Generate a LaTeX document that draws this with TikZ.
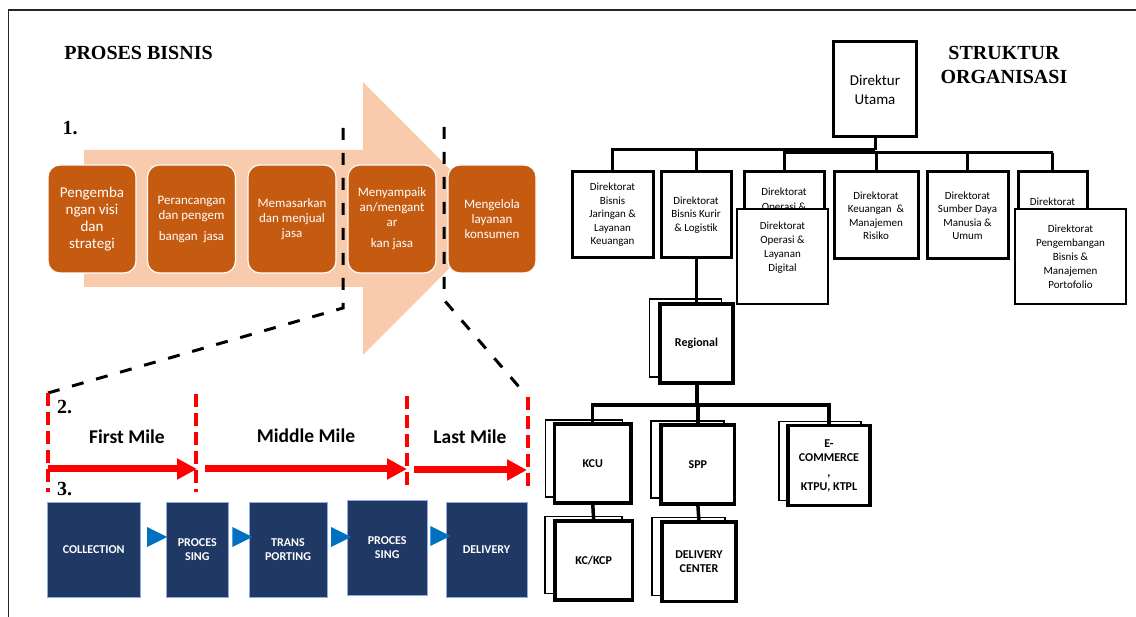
\documentclass[tikz,border=0pt]{standalone}
\usepackage{fontspec}
\setmainfont{Liberation Serif}
\newfontfamily\carlito{Carlito}
\usetikzlibrary{arrows.meta,shapes.geometric}

\definecolor{peach}{HTML}{F8CBAD}
\definecolor{rust}{HTML}{C55A11}
\definecolor{navy}{HTML}{203864}
\definecolor{navyline}{HTML}{8FAADC}
\definecolor{triblue}{HTML}{0070C0}
\definecolor{redline}{HTML}{FF0000}

\begin{document}
\begin{tikzpicture}[x=1pt,y=-1pt,
  heading/.style={inner sep=0pt, align=center, font=\bfseries\fontsize{20}{24}\selectfont},
  obox/.style={rounded corners=12pt, fill=rust, draw=white, line width=1.2pt,
    minimum width=88pt, minimum height=108pt, inner sep=0pt, text=white,
    align=center, font=\carlito\fontsize{13}{15}\selectfont},
  nbox/.style={fill=navy, draw=navyline, line width=0.8pt, inner sep=0pt,
    text=white, align=center, font=\carlito\bfseries\fontsize{12}{14}\selectfont},
  tri/.style={isosceles triangle, isosceles triangle stretches, fill=triblue,
    minimum width=20pt, minimum height=20pt, inner sep=0pt},
  bdash/.style={line width=3pt, dash pattern=on 12pt off 13pt},
  rdash/.style={redline, line width=4pt, dash pattern=on 13pt off 6pt},
  rarrow/.style={redline, line width=7pt, -{Triangle[length=20pt,width=20pt]}},
  milelabel/.style={inner sep=0pt, font=\carlito\bfseries\fontsize{19.5}{22}\selectfont},
  dbox/.style={draw=black, line width=3pt, fill=white, inner sep=0pt, align=center,
    font=\carlito\fontsize{11}{13.5}\selectfont},
  dfront/.style={dbox, line width=2.2pt},
  dtext/.style={inner sep=0pt, align=center, font=\carlito\fontsize{11}{14}\selectfont},
  sbox/.style={draw=black, line width=1.2pt, fill=white, inner sep=0pt},
  fbox/.style={draw=black, line width=3.6pt, fill=white, inner sep=0pt, align=center,
    font=\carlito\bfseries\fontsize{12}{14.5}\selectfont},
  conn/.style={line width=3pt},
  conn2/.style={line width=3.5pt}
]
\useasboundingbox (0,0) rectangle (1136,617);

% frame
\draw[line width=1.6pt, black!85] (8.6,617) -- (8.6,10) -- (1136,10);

% ---------------- business process ----------------
\node[heading] (hproc) at (138.5,53) {PROSES BISNIS};
\node[heading] (n1) at (70,128) {1.};

% big background arrow
\fill[peach] (84,150) -- (363,150) -- (363,82) -- (499,218.5) -- (363,355)
  -- (363,287) -- (84,287) -- cycle;

\node[obox, font=\carlito\fontsize{15}{17}\selectfont] (p1) at (92,219)
  {Pengemba\\ngan visi\\dan\\strategi};
\node[obox] (p2) at (191.5,219) {Perancangan\\dan pengem\\[6pt]bangan\ \ jasa};
\node[obox] (p3) at (292,219) {Memasarkan\\dan menjual\\jasa};
\node[obox] (p4) at (392,219) {Menyampaik\\an/mengant\\ar\\[6pt]kan jasa};
\node[obox] (p5) at (492,219) {Mengelola\\layanan\\konsumen};

% zoom lines towards the mile breakdown
\coordinate (k1) at (343,128);
\coordinate (k2) at (343,308);
\coordinate (k3) at (444,127);
\coordinate (k4) at (444,300);
\coordinate (k5) at (520,388);

% red separators
\coordinate (s1t) at (48,393);  \coordinate (s1b) at (48,492);
\coordinate (s2t) at (196,394); \coordinate (s2b) at (196,492);
\coordinate (s3t) at (407,396); \coordinate (s3b) at (407,490);
\coordinate (s4t) at (528,397); \coordinate (s4b) at (528,490);

\draw[bdash] (k1) -- (k2) -- (s1t);
\draw[bdash] (k3) -- (k4) -- (k5);

\draw[rdash] (s1t) -- (s1b);
\draw[rdash] (s2t) -- (s2b);
\draw[rdash] (s3t) -- (s3b);
\draw[rdash] (s4t) -- (s4b);

\node[heading] (n2) at (64.5,407) {2.};
\node[heading] (n3) at (64.5,489) {3.};

\node[milelabel] (m1) at (127,437) {First Mile};
\node[milelabel] (m2) at (306,436) {Middle Mile};
\node[milelabel] (m3) at (470,437) {Last Mile};

\coordinate (a0) at (48,469);
\coordinate (a1) at (197,469);
\coordinate (a2) at (205,469);
\coordinate (a3) at (407,469);
\coordinate (a4) at (414,470);
\coordinate (a5) at (527,470);
\draw[rarrow] (a0) -- (a1);
\draw[rarrow] (a2) -- (a3);
\draw[rarrow] (a4) -- (a5);

% process chain
\node[nbox, minimum width=92.5pt, minimum height=95pt] (c1) at (93.75,549.5) {COLLECTION};
\node[nbox, minimum width=61.3pt, minimum height=95pt] (c2) at (197.3,549.5) {PROCES\\SING};
\node[nbox, minimum width=78pt, minimum height=95pt] (c3) at (288,549.5) {TRANS\\PORTING};
\node[nbox, minimum width=79.5pt, minimum height=94.3pt] (c4) at (387.2,547.9) {PROCES\\SING};
\node[nbox, minimum width=81pt, minimum height=95pt] (c5) at (486.5,549.5) {DELIVERY};

\path (c1.east |- 0,537) -- (c2.west |- 0,537) node[tri, midway] (t1) {};
\path (c2.east |- 0,537) -- (c3.west |- 0,537) node[tri, midway] (t2) {};
\path (c3.east |- 0,537) -- (c4.west |- 0,537) node[tri, midway] (t3) {};
\path (c4.east |- 0,536) -- (c5.west |- 0,536) node[tri, midway] (t4) {};

% ---------------- organisation chart ----------------
\node[heading] (horg) at (1004,65) {STRUKTUR\\ORGANISASI};

\node[dbox, minimum width=83pt, minimum height=95pt,
  font=\carlito\fontsize{15}{19}\selectfont] (du) at (875,89.5) {Direktur\\Utama};

\node[dbox, minimum width=81pt, minimum height=86pt] (b1) at (612.5,215)
  {Direktorat\\Bisnis\\Jaringan \&\\Layanan\\Keuangan};
\node[dbox, minimum width=70pt, minimum height=86pt] (b2) at (696,215)
  {Direktorat\\Bisnis Kurir\\\& Logistik};
\node[dbox, minimum width=80pt, minimum height=87pt] (b3) at (784,215.5) {};
\node[dtext, font=\carlito\fontsize{11}{15}\selectfont] (b3t) at (784,200.5) {Direktorat\\Operasi \&};
\node[dbox, minimum width=84pt, minimum height=87pt] (b4) at (876,215.5)
  {Direktorat\\Keuangan\ \ \&\\Manajemen\\Risiko};
\node[dbox, minimum width=81pt, minimum height=87pt] (b5) at (967.5,215.5)
  {Direktorat\\Sumber Daya\\Manusia \&\\Umum};
\node[dbox, minimum width=69pt, minimum height=87pt] (b6) at (1052.5,215.5) {};
\node[dtext] (b6t) at (1052.5,202) {Direktorat};

\node[dfront, minimum width=91pt, minimum height=95pt] (b3f) at (782.5,256.5) {};
\node[dtext] (b3ft) at (782.5,248) {Direktorat\\Operasi \&\\Layanan\\Digital};
\node[dfront, minimum width=111pt, minimum height=95pt, font=\carlito\fontsize{11}{14}\selectfont]
  (b6f) at (1070.5,256.5) {Direktorat\\Pengembangan\\Bisnis \&\\Manajemen\\Portofolio};

% top level bus
\coordinate (busA) at (875,150);
\coordinate (busB) at (1052.5,153);
\draw[conn] (du.south) -- (busA);
\draw[conn] (b1.north) |- (busA);
\draw[conn] (b2.north) |- (busA);
\draw[conn] (b3.north) |- (busB);
\draw[conn] (b6.north) -- (busB);
\draw[conn] (b4.north) -- (b4.north |- busB);
\draw[conn] (b5.north) -- (b5.north |- busB);

% regional level: back copies first
\node[sbox, minimum width=72pt, minimum height=78pt] (regB) at (685.5,338) {};
\node[sbox, minimum width=77pt, minimum height=77pt] (kcuB) at (584,458.5) {};
\node[sbox, minimum width=73pt, minimum height=77pt] (sppB) at (687.5,459.5) {};
\node[sbox, minimum width=82pt, minimum height=79pt] (ecomB) at (820,461) {};
\node[sbox, minimum width=77pt, minimum height=77pt] (kcpB) at (583.5,555.3) {};
\node[sbox, minimum width=73pt, minimum height=78pt] (dcB) at (688.5,556.7) {};

\coordinate (busC) at (697,405);
\coordinate (regTop) at (696.5,304);
\draw[conn] (b2.south) -- (b2.south |- regTop);
\draw[conn2] (busC |- 0,383) -- (busC);
\draw[conn2] (592.7,424) |- (busC);
\draw[conn2] (829,425.7) |- (busC);
\draw[conn2] (697.8,425) -- (697.8,405);
\draw[conn2] (592.7,503) -- (593.7,521);
\draw[conn2] (697.8,504) -- (699,522);

\node[fbox, minimum width=73pt, minimum height=79pt] (reg) at (696.5,343.5) {Regional};
\node[fbox, minimum width=76.6pt, minimum height=79pt] (kcu) at (592.7,463.5) {KCU};
\node[fbox, minimum width=73.7pt, minimum height=79pt] (spp) at (697.8,464.5) {SPP};
\node[fbox, minimum width=82pt, minimum height=80pt] (ecom) at (829,465.7)
  {E-\\COMMERCE\\,\\KTPU, KTPL};
\node[fbox, minimum width=77.4pt, minimum height=79pt] (kcp) at (593.7,560.5) {KC/KCP};
\node[fbox, minimum width=74pt, minimum height=79.7pt] (dc) at (699,561.8) {DELIVERY\\CENTER};

\end{tikzpicture}
\end{document}
